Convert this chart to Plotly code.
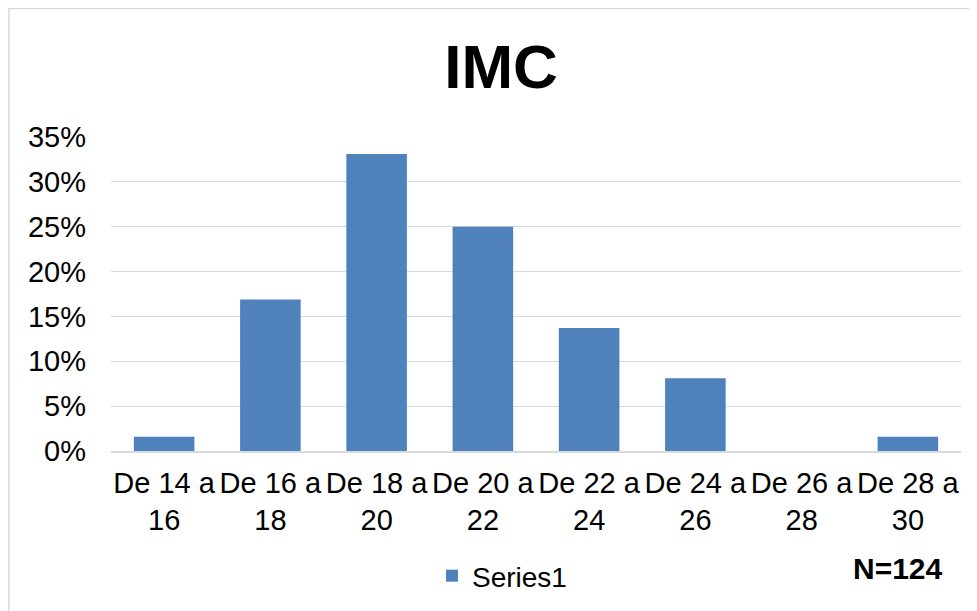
import plotly.graph_objects as go

categories = ["De 14 a<br>16", "De 16 a<br>18", "De 18 a<br>20", "De 20 a<br>22",
              "De 22 a<br>24", "De 24 a<br>26", "De 26 a<br>28", "De 28 a<br>30"]
values = [0.016, 0.169, 0.331, 0.25, 0.137, 0.081, 0.0, 0.016]
series_name = "Series1"
title_text = "IMC"
note_text = "N=124"

# page has an 8px body margin, so the figure is sized to fit the window
W, H = 969, 603
L, R, T, B = 103, 16, 129, 160
PW, PH = W - L - R, H - T - B

fig = go.Figure()
fig.add_trace(go.Bar(x=categories, y=values, name=series_name,
                     marker=dict(color="#4f81bd", line=dict(width=0))))

fig.update_layout(
    width=W, height=H,
    margin=dict(l=L, r=R, t=T, b=B),
    paper_bgcolor="white", plot_bgcolor="white",
    bargap=0.43,
    font=dict(family="Liberation Sans, Arial, sans-serif", size=29, color="#000000"),
    title=dict(text="<b>" + title_text + "</b>", x=493 / W, xanchor="center",
               y=1 - 58 / H, yanchor="middle", yref="container",
               font=dict(size=62, color="#000000")),
    showlegend=True,
    legend=dict(orientation="h", xref="container", yref="container",
                x=424 / W, xanchor="left", y=1 - 568 / H, yanchor="middle",
                font=dict(size=28), bgcolor="rgba(0,0,0,0)"),
    xaxis=dict(showgrid=False, showline=True, linecolor="#d9d9d9", linewidth=1.5,
               ticks="", tickfont=dict(size=29), tickangle=0, ticklabelstandoff=5),
    yaxis=dict(range=[0, 0.35], dtick=0.05, tickformat=".0%", showgrid=True,
               gridcolor="#d9d9d9", gridwidth=1.3, zeroline=False, showline=False,
               ticks="", tickfont=dict(size=29), ticklabelstandoff=24),
    shapes=[dict(type="rect", xref="paper", yref="paper",
                 x0=(1 - L) / PW, x1=(W + 20 - L) / PW,
                 y0=-(H + 20 - T - PH) / PH, y1=(T - 0.5 + PH) / PH,
                 line=dict(color="#d9d9d9", width=1.5), fillcolor="rgba(0,0,0,0)")],
    annotations=[dict(text="<b>" + note_text + "</b>", xref="paper", yref="paper",
                      x=(890 - L) / PW, y=-(560 - T - PH) / PH,
                      xanchor="center", yanchor="middle",
                      showarrow=False, font=dict(size=30, color="#000000"))],
)

fig.write_html("out.html")
